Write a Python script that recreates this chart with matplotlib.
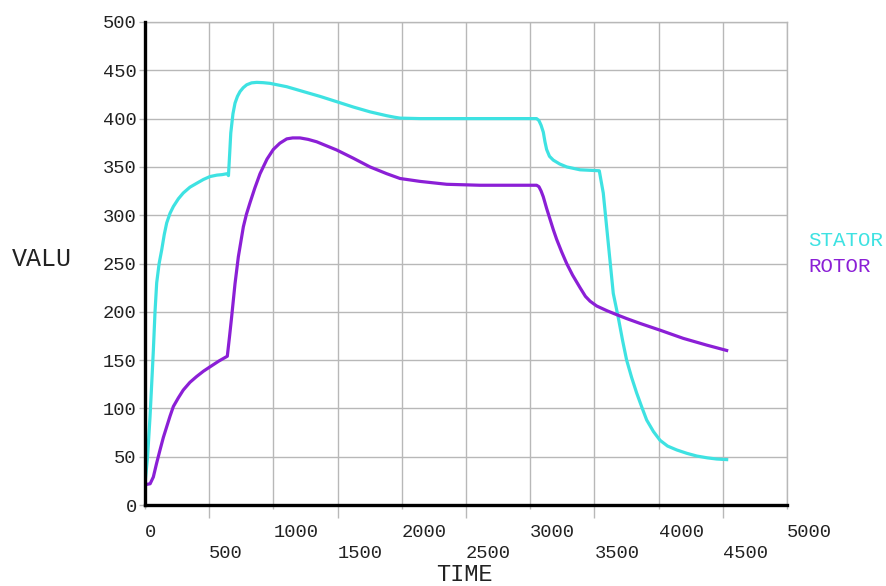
import matplotlib
matplotlib.use('Agg')
import matplotlib.pyplot as plt

# temperature history, stator and rotor
stator_t = [0, 20, 39, 52, 65, 78, 91, 110, 130, 150, 169, 195, 221, 260, 298, 350, 402, 455,
            506, 560, 600, 641, 650, 660, 668, 685, 701, 720, 740, 765, 792, 830, 870, 920,
            973, 1104, 1233, 1363, 1493, 1622, 1752, 1882, 1940, 1986, 2142,
            3050, 3068, 3085, 3102, 3115, 3128, 3150, 3180, 3230, 3284, 3388, 3538, 3569,
            3608, 3647, 3686, 3720, 3751, 3790, 3829, 3870, 3907, 3960, 4011, 4070, 4141,
            4220, 4297, 4380, 4452, 4530]
stator_v = [22, 50, 91, 125, 160, 200, 230, 250, 264, 280, 292, 302, 309, 317, 323, 329, 333,
            337, 340, 341.5, 342, 343, 341, 365, 385, 405, 416, 423, 428, 432, 435, 437, 437.5,
            437.2, 436.5, 433, 428, 423, 417.5, 412, 407, 403, 401.5, 400.5, 400,
            400, 398, 393, 386, 376, 368, 361, 357, 353, 350, 347, 346, 323,
            271, 219, 194, 170, 150, 132, 116, 101, 88, 76, 67, 61, 57,
            53.5, 50.7, 48.8, 47.6, 47]

rotor_t = [0, 40, 65, 90, 117, 143, 169, 195, 221, 260, 298, 350, 402, 455, 506, 575, 641,
           658, 675, 701, 727, 766, 790, 818, 855, 896, 950, 999, 1050, 1104, 1150, 1207,
           1270, 1337, 1493, 1622, 1752, 1882, 1986, 2142, 2350, 2609, 3050, 3068, 3085,
           3102, 3128, 3154, 3180, 3206, 3245, 3284, 3330, 3388, 3430, 3466, 3518, 3600,
           3674, 3751, 3855, 4011, 4192, 4375, 4530]
rotor_v = [21, 22, 29, 43, 57, 70, 81, 92, 102, 111, 119, 127, 133, 138.5, 143, 149, 154,
           174, 195, 229, 257, 288, 301, 313, 328, 343, 358, 368, 374.5, 379, 380, 380,
           378.5, 376, 367.5, 359, 350, 343, 338, 335, 332, 331, 331, 329.5, 325,
           319, 307, 296, 285, 275, 262, 250, 238, 225, 216, 211, 206, 201,
           197, 193, 188, 181, 172.5, 165.5, 160]

major_x = [0, 1000, 2000, 3000, 4000, 5000]
minor_x = [500, 1500, 2500, 3500, 4500]
y_ticks = [0, 50, 100, 150, 200, 250, 300, 350, 400, 450, 500]

cyan = '#3ee2e2'
purple = '#8b1fd6'
grid_col = '#b8b8b8'
text_col = '#222222'
mono = 'Liberation Mono'

fig = plt.figure(figsize=(8.86, 5.86), dpi=100)
ax = fig.add_axes([145 / 886, 1 - 505 / 586, 642 / 886, 483 / 586])

ax.plot(stator_t, stator_v, color=cyan, lw=2.3, zorder=3, solid_joinstyle='round')
ax.plot(rotor_t, rotor_v, color=purple, lw=2.3, zorder=3, solid_joinstyle='round')

ax.set_xlim(0, 5000)
ax.set_ylim(0, 500)

# grid at every 500 / 50
for x in major_x + minor_x:
    ax.axvline(x, color=grid_col, lw=1.0, zorder=1)
for y in y_ticks:
    ax.axhline(y, color=grid_col, lw=1.0, zorder=1)

for s in ['top', 'right']:
    ax.spines[s].set_color(grid_col)
    ax.spines[s].set_linewidth(1.0)
for s in ['left', 'bottom']:
    ax.spines[s].set_color('black')
    ax.spines[s].set_linewidth(2.4)
    ax.spines[s].set_zorder(4)

# staggered x labels, left aligned on their grid line
ax.set_xticks(major_x, [str(v) for v in major_x])
ax.set_xticks(minor_x, [str(v) for v in minor_x], minor=True)
ax.tick_params(axis='x', which='major', length=3, width=1.0, color=grid_col,
               pad=10.5, labelsize=13.5, labelcolor=text_col)
ax.tick_params(axis='x', which='minor', length=9, width=1.0, color=grid_col,
               pad=19.5, labelsize=13.5, labelcolor=text_col)
for lab in ax.get_xticklabels() + ax.get_xticklabels(minor=True):
    lab.set_horizontalalignment('left')
    lab.set_fontfamily(mono)

ax.set_yticks(y_ticks, [str(v) for v in y_ticks])
ax.tick_params(axis='y', length=4, width=1.0, color=grid_col, pad=2,
               labelsize=13.5, labelcolor=text_col)
for lab in ax.get_yticklabels():
    lab.set_fontfamily(mono)

ax.set_xlabel('TIME', fontsize=17, family=mono, color=text_col)
ax.xaxis.set_label_coords(0.497, -0.143)
ax.xaxis.label.set_verticalalignment('center')
ax.set_ylabel('VALU', fontsize=18, family=mono, color=text_col, rotation=0,
              ha='left', va='center')
ax.yaxis.set_label_coords(-0.207, 0.509)

ax.text(1.033, 0.547, 'STATOR', transform=ax.transAxes, color=cyan,
        fontsize=15, family=mono, va='center', ha='left')
ax.text(1.033, 0.493, 'ROTOR', transform=ax.transAxes, color=purple,
        fontsize=15, family=mono, va='center', ha='left')

fig.savefig('out.png', dpi=100)
